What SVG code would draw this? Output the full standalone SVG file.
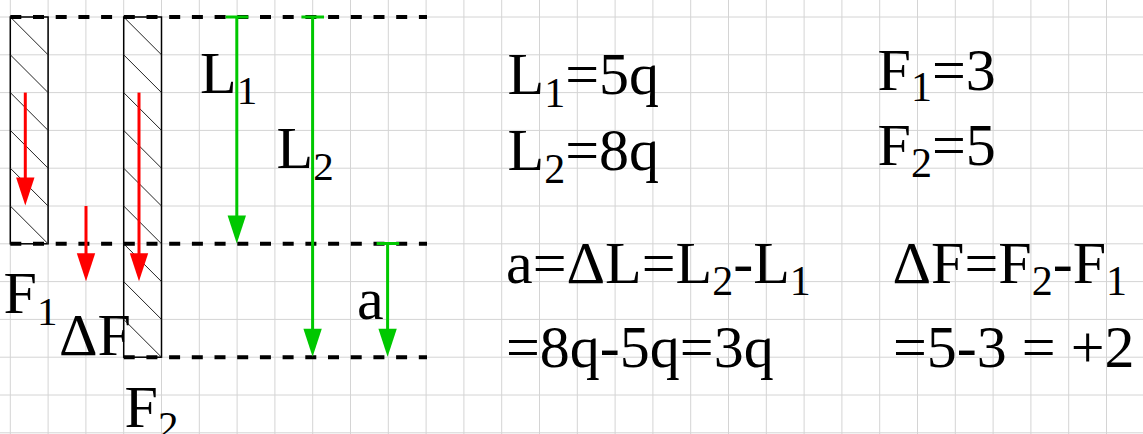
<svg xmlns="http://www.w3.org/2000/svg" width="1143" height="434" viewBox="0 0 1143 434">
<style>
.grid line{stroke:#d4d4d4;stroke-width:1}
.dash{stroke:#000;stroke-width:4;stroke-dasharray:11 11.7;fill:none}
.bar{fill:none;stroke:#000;stroke-width:1.5}
.hatch{stroke:#222;stroke-width:1}
.red{stroke:#ff0000;stroke-width:3;fill:none}
.redh{fill:#ff0000}
.grn{stroke:#00c800;stroke-width:3;fill:none}
.grnh{fill:#00c800}
text{font-family:"Liberation Serif","Times New Roman",serif;fill:#000;font-size:60px}
.s{font-size:41px}
.f{font-size:61px}
.f .s{font-size:42px}
</style>
<rect width="1143" height="434" fill="#fff"/>
<g class="grid" id="grid">
<line x1="10.3" y1="0" x2="10.3" y2="434"/><line x1="48.1" y1="0" x2="48.1" y2="434"/><line x1="85.9" y1="0" x2="85.9" y2="434"/><line x1="123.7" y1="0" x2="123.7" y2="434"/><line x1="161.5" y1="0" x2="161.5" y2="434"/><line x1="199.3" y1="0" x2="199.3" y2="434"/><line x1="237.1" y1="0" x2="237.1" y2="434"/><line x1="274.9" y1="0" x2="274.9" y2="434"/><line x1="312.7" y1="0" x2="312.7" y2="434"/><line x1="350.5" y1="0" x2="350.5" y2="434"/><line x1="388.3" y1="0" x2="388.3" y2="434"/><line x1="426.1" y1="0" x2="426.1" y2="434"/><line x1="463.9" y1="0" x2="463.9" y2="434"/><line x1="501.7" y1="0" x2="501.7" y2="434"/><line x1="539.5" y1="0" x2="539.5" y2="434"/><line x1="577.3" y1="0" x2="577.3" y2="434"/><line x1="615.1" y1="0" x2="615.1" y2="434"/><line x1="652.9" y1="0" x2="652.9" y2="434"/><line x1="690.7" y1="0" x2="690.7" y2="434"/><line x1="728.5" y1="0" x2="728.5" y2="434"/><line x1="766.3" y1="0" x2="766.3" y2="434"/><line x1="804.1" y1="0" x2="804.1" y2="434"/><line x1="841.9" y1="0" x2="841.9" y2="434"/><line x1="879.7" y1="0" x2="879.7" y2="434"/><line x1="917.5" y1="0" x2="917.5" y2="434"/><line x1="955.3" y1="0" x2="955.3" y2="434"/><line x1="993.1" y1="0" x2="993.1" y2="434"/><line x1="1030.9" y1="0" x2="1030.9" y2="434"/><line x1="1068.7" y1="0" x2="1068.7" y2="434"/><line x1="1106.5" y1="0" x2="1106.5" y2="434"/>
<line x1="0" y1="17" x2="1143" y2="17"/><line x1="0" y1="54.8" x2="1143" y2="54.8"/><line x1="0" y1="92.6" x2="1143" y2="92.6"/><line x1="0" y1="130.4" x2="1143" y2="130.4"/><line x1="0" y1="168.2" x2="1143" y2="168.2"/><line x1="0" y1="206" x2="1143" y2="206"/><line x1="0" y1="243.8" x2="1143" y2="243.8"/><line x1="0" y1="281.6" x2="1143" y2="281.6"/><line x1="0" y1="319.4" x2="1143" y2="319.4"/><line x1="0" y1="357.2" x2="1143" y2="357.2"/><line x1="0" y1="395" x2="1143" y2="395"/><line x1="0" y1="432.8" x2="1143" y2="432.8"/>
</g>
<g id="bar1">
<rect class="bar" x="10.3" y="17" width="37.8" height="226.8"/>
<g class="hatch">
<line x1="10.3" y1="17" x2="48.1" y2="54.8"/><line x1="10.3" y1="54.8" x2="48.1" y2="92.6"/><line x1="10.3" y1="92.6" x2="48.1" y2="130.4"/><line x1="10.3" y1="130.4" x2="48.1" y2="168.2"/><line x1="10.3" y1="168.2" x2="48.1" y2="206"/><line x1="10.3" y1="206" x2="48.1" y2="243.8"/>
</g>
</g>
<g id="bar2">
<rect class="bar" x="123.7" y="17" width="37.8" height="340.2"/>
<g class="hatch">
<line x1="123.7" y1="17" x2="161.5" y2="54.8"/><line x1="123.7" y1="54.8" x2="161.5" y2="92.6"/><line x1="123.7" y1="92.6" x2="161.5" y2="130.4"/><line x1="123.7" y1="130.4" x2="161.5" y2="168.2"/><line x1="123.7" y1="168.2" x2="161.5" y2="206"/><line x1="123.7" y1="206" x2="161.5" y2="243.8"/><line x1="123.7" y1="243.8" x2="161.5" y2="281.6"/><line x1="123.7" y1="281.6" x2="161.5" y2="319.4"/><line x1="123.7" y1="319.4" x2="161.5" y2="357.2"/>
</g>
</g>
<g id="levels">
<line class="dash" x1="10.3" y1="17" x2="427" y2="17"/>
<line class="dash" x1="10.3" y1="243.8" x2="427" y2="243.8"/>
<line class="dash" x1="123.7" y1="357.2" x2="427" y2="357.2"/>
</g>
<g id="connectors">
<line class="red" x1="25.3" y1="92.6" x2="25.3" y2="180"/>
<polygon class="redh" points="16.1,177.5 34.5,177.5 25.3,205.5"/>
<line class="red" x1="86" y1="206" x2="86" y2="256"/>
<polygon class="redh" points="76.8,253.3 95.2,253.3 86,281.3"/>
<line class="red" x1="139" y1="92.6" x2="139" y2="256"/>
<polygon class="redh" points="129.8,253.3 148.2,253.3 139,281.3"/>
<line class="grn" x1="225.7" y1="17" x2="248.3" y2="17"/>
<line class="grn" x1="236.8" y1="17" x2="236.8" y2="218"/>
<polygon class="grnh" points="227.6,215.5 246,215.5 236.8,243.5"/>
<line class="grn" x1="301.4" y1="17" x2="324" y2="17"/>
<line class="grn" x1="312.6" y1="17" x2="312.6" y2="331"/>
<polygon class="grnh" points="303.4,328.8 321.8,328.8 312.6,356.8"/>
<line class="grn" x1="376.6" y1="243.5" x2="399.2" y2="243.5"/>
<line class="grn" x1="387.6" y1="243.5" x2="387.6" y2="331"/>
<polygon class="grnh" points="378.4,328.8 396.8,328.8 387.6,356.8"/>
</g>
<g id="labels">
<text x="200" y="92.7">L<tspan class="s" dy="11.5">1</tspan></text>
<text x="276.5" y="168">L<tspan class="s" dy="12">2</tspan></text>
<text x="3.5" y="313">F<tspan class="s" dy="12">1</tspan></text>
<text x="59" y="355" font-size="48">ΔF</text>
<text x="124.5" y="427">F<tspan class="s" dy="12">2</tspan></text>
<text x="357" y="319">a</text>
</g>
<g id="formulas" class="f">
<text x="507.5" y="94">L<tspan class="s" dy="12.7">1</tspan><tspan dy="-12.7">=5q</tspan></text>
<text x="507.5" y="170">L<tspan class="s" dy="13">2</tspan><tspan dy="-13">=8q</tspan></text>
<text x="877.5" y="90">F<tspan class="s" dy="11">1</tspan><tspan dy="-11">=3</tspan></text>
<text x="877.5" y="165">F<tspan class="s" dy="12">2</tspan><tspan dy="-12">=5</tspan></text>
<text x="506" y="283">a=ΔL=L<tspan class="s" dy="12">2</tspan><tspan dy="-12">-L</tspan><tspan class="s" dy="12">1</tspan></text>
<text x="506" y="367">=8q-5q=3q</text>
<text x="892.5" y="283">ΔF=F<tspan class="s" dy="12">2</tspan><tspan dy="-12">-F</tspan><tspan class="s" dy="12">1</tspan></text>
<text x="893" y="367">=5-3 = +2</text>
</g>
</svg>
